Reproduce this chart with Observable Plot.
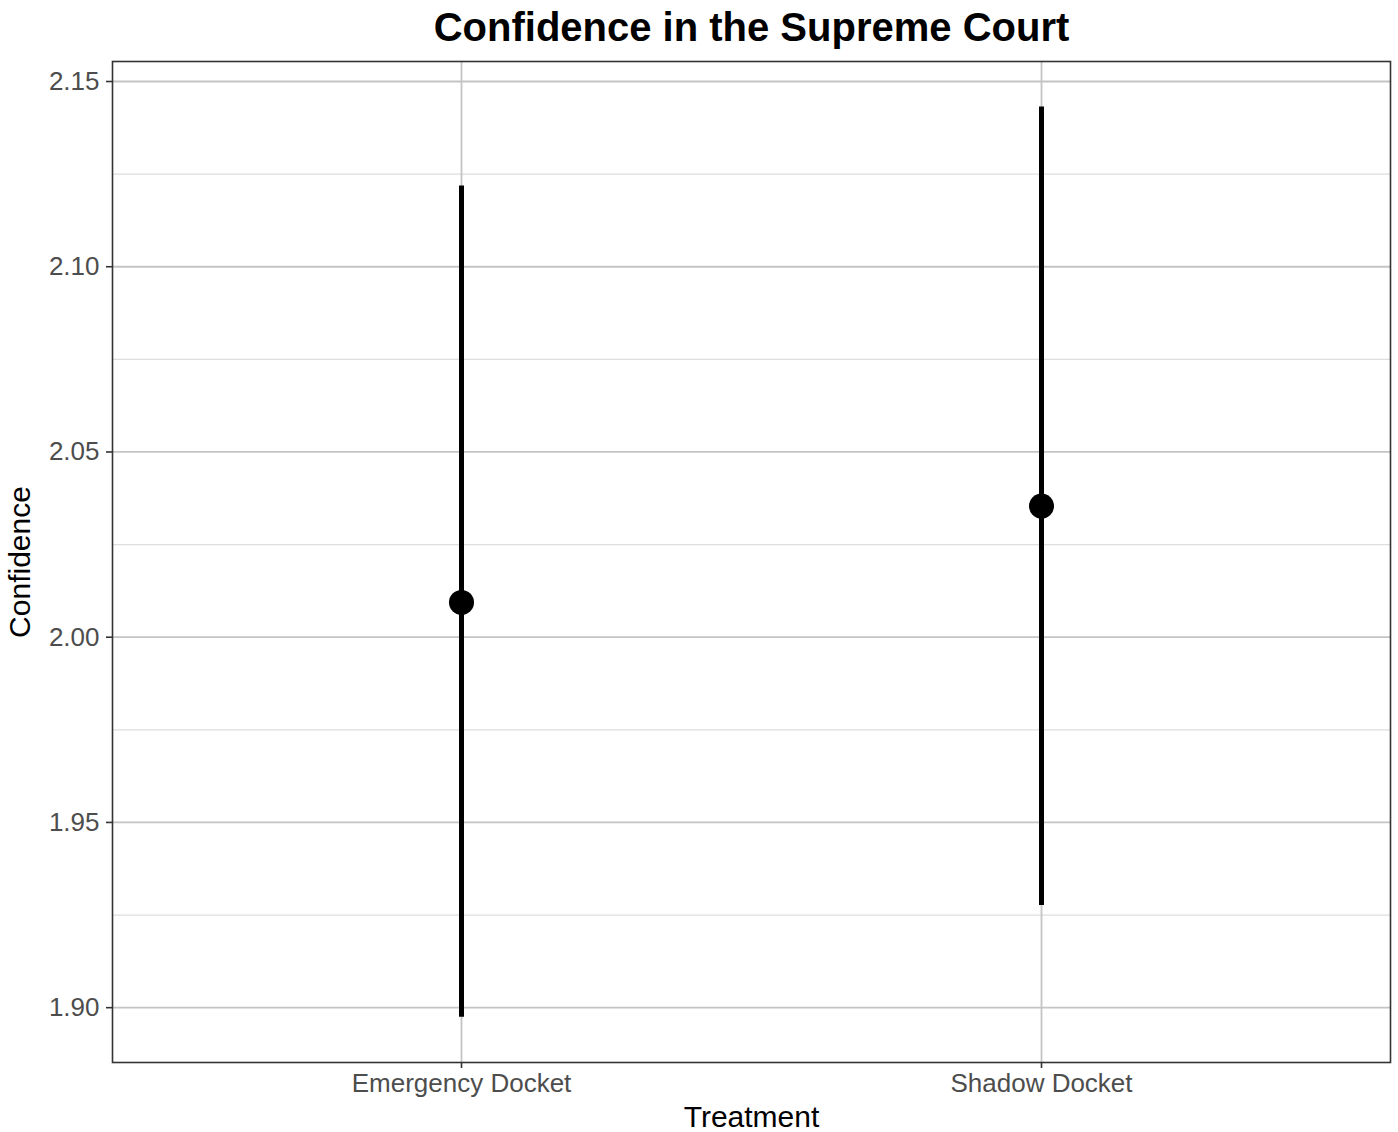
<!DOCTYPE html>
<html><head>
<meta charset="utf-8">
<script src="https://cdn.jsdelivr.net/npm/d3@7"></script>
<script src="https://cdn.jsdelivr.net/npm/@observablehq/plot@0.6"></script>
<style>
body{margin:0;background:#fff;font-family:"Liberation Sans",Arial,sans-serif}
#title{box-sizing:border-box;width:1398px;height:54px;padding:0 8px 0 113px;text-align:center;font-weight:bold;font-size:40px;line-height:54px;color:#000}
</style>
</head><body>
<div id="title">Confidence in the Supreme Court</div>
<div id="chart"></div>
<script>
const treatments = ["Emergency Docket", "Shadow Docket"];
const means = [2.0094, 2.0354];
const lower = [1.8974, 1.9276];
const upper = [2.1218, 2.1431];
const yTicks = [1.90, 1.95, 2.00, 2.05, 2.10, 2.15];
const yMinor = [1.925, 1.975, 2.025, 2.075, 2.125];
const yDomain = [1.8852, 2.1554];

const data = treatments.map((t, i) => ({treatment: t, mean: means[i], lo: lower[i], hi: upper[i]}));

const plot = Plot.plot({
  width: 1398,
  height: 1078,
  marginTop: 7,
  marginLeft: 112,
  marginRight: 8,
  marginBottom: 70,
  style: {fontFamily: '"Liberation Sans", Arial, sans-serif', background: "#fff"},
  x: {type: "point", domain: treatments, padding: 0.6},
  y: {domain: yDomain},
  marks: [
    Plot.gridY(yMinor, {stroke: "#dedede", strokeOpacity: 1, strokeWidth: 1.3}),
    Plot.gridY(yTicks, {stroke: "#c4c4c4", strokeOpacity: 1, strokeWidth: 1.8}),
    Plot.gridX(treatments, {stroke: "#c4c4c4", strokeOpacity: 1, strokeWidth: 1.8}),
    Plot.frame({stroke: "#333333", strokeWidth: 1.6}),
    Plot.axisY(yTicks, {
      tickFormat: d3.format(".2f"), tickSize: 6, tickPadding: 7,
      fontSize: 26, color: "#4d4d4d", stroke: "#333333", strokeWidth: 1.6,
      label: "Confidence", labelAnchor: "center", labelArrow: "none", labelOffset: 104
    }),
    Plot.axisX(treatments, {
      tickSize: 6, tickPadding: 5, fontSize: 26, color: "#4d4d4d", stroke: "#333333", strokeWidth: 1.6,
      label: "Treatment", labelAnchor: "center", labelArrow: "none", labelOffset: 64
    }),
    Plot.ruleX(data, {x: "treatment", y1: "lo", y2: "hi", stroke: "#000", strokeWidth: 5}),
    Plot.dot(data, {x: "treatment", y: "mean", r: 12.5, fill: "#000", stroke: "none"})
  ]
});
plot.querySelectorAll("g[aria-label='y-axis label'] text, g[aria-label='x-axis label'] text").forEach(t => {
  t.setAttribute("font-size", 30); t.style.fill = "#000"; t.setAttribute("fill", "#000");
});
document.getElementById("chart").appendChild(plot);
</script>
</body></html>
